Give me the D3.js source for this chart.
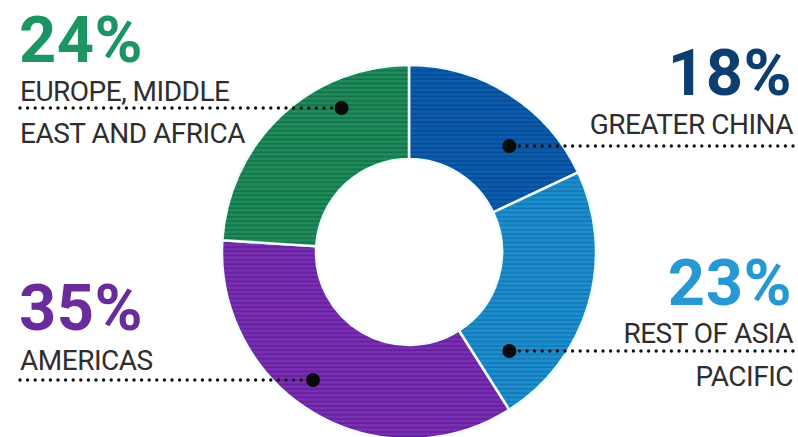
<!DOCTYPE html>
<html>
<head>
<meta charset="utf-8">
<script src="https://cdn.jsdelivr.net/npm/d3@7"></script>
<style>
  html, body { margin: 0; padding: 0; background: #fff; }
  #chart { width: 798px; height: 437px; overflow: hidden; }
  text { font-family: Roboto, "Noto Sans", sans-serif; }
</style>
</head>
<body>
<div id="chart"></div>
<script>
// Regional share, clockwise from 12 o'clock
const REGIONS = ['GREATER CHINA', 'REST OF ASIA PACIFIC', 'AMERICAS', 'EUROPE, MIDDLE EAST AND AFRICA'];
const SHARES = [18, 23, 35, 24];
const LABEL_LINES = [
  ['GREATER CHINA'],
  ['REST OF ASIA', 'PACIFIC'],
  ['AMERICAS'],
  ['EUROPE, MIDDLE', 'EAST AND AFRICA']
];

const WIDTH = 798, HEIGHT = 437;
const CENTER = { x: 409, y: 252 };
const R_OUT = 187, R_IN = 93;

const FILL = ['#0b5cad', '#1d8ecd', '#7a2eb2', '#1e8b5b'];
const STRIPE = ['#084a92', '#1476b0', '#60209a', '#157047'];
const PCT_COLOUR = ['#0e3d6f', '#2698d3', '#6a2c9d', '#1c9562'];

// label placement: side, percent baseline, text baselines, leader y, dot ring radius
const LAYOUT = [
  { side: 'right', pctY: 95, textY: [134], leaderY: 146, dotR: 146 },
  { side: 'right', pctY: 305, textY: [343, 386], leaderY: 351, dotR: 141 },
  { side: 'left', pctY: 330, textY: [370], leaderY: 380, dotR: 160 },
  { side: 'left', pctY: 62, textY: [101, 143], leaderY: 108, dotR: 159 }
];
const LEFT_X = 20, RIGHT_X = 793;

const svg = d3.select('#chart').append('svg')
  .attr('width', WIDTH)
  .attr('height', HEIGHT);

// striped fills
const defs = svg.append('defs');
FILL.forEach((c, i) => {
  const p = defs.append('pattern')
    .attr('id', `stripe-${i}`)
    .attr('patternUnits', 'userSpaceOnUse')
    .attr('width', 8)
    .attr('height', 4.3);
  p.append('rect').attr('width', 8).attr('height', 4.3).attr('fill', c);
  p.append('rect').attr('y', 2.8).attr('width', 8).attr('height', 1.5).attr('fill', STRIPE[i]);
});

const pie = d3.pie().sort(null).value(d => d)(SHARES);
const arc = d3.arc().innerRadius(R_IN).outerRadius(R_OUT);

const g = svg.append('g').attr('transform', `translate(${CENTER.x},${CENTER.y})`);

g.selectAll('path.slice')
  .data(pie)
  .join('path')
  .attr('class', 'slice')
  .attr('d', arc)
  .attr('fill', (d, i) => `url(#stripe-${i})`)
  .attr('stroke', '#effcf9')
  .attr('stroke-width', 2.5)
  .attr('stroke-linejoin', 'round');

// labels with dotted leaders
REGIONS.forEach((name, i) => {
  const L = LAYOUT[i];
  const right = L.side === 'right';
  const x = right ? RIGHT_X : LEFT_X;
  const anchor = right ? 'end' : 'start';

  svg.append('text')
    .attr('x', x - 1)
    .attr('y', L.pctY)
    .attr('text-anchor', anchor)
    .style('font-size', '65px')
    .style('font-weight', '700')
    .style('letter-spacing', '0.5px')
    .style('fill', PCT_COLOUR[i])
    .text(`${SHARES[i]}%`);

  LABEL_LINES[i].forEach((line, j) => {
    svg.append('text')
      .attr('x', x)
      .attr('y', L.textY[j])
      .attr('text-anchor', anchor)
      .style('font-size', '28px')
      .style('letter-spacing', '-0.5px')
      .style('fill', '#2e2e2e')
      .text(line);
  });

  // dot sits on a ring at the leader's height
  const dy = L.leaderY - CENTER.y;
  const dx = Math.sqrt(L.dotR * L.dotR - dy * dy) * (right ? 1 : -1);
  const dotX = CENTER.x + dx;

  svg.append('line')
    .attr('x1', right ? RIGHT_X : LEFT_X)
    .attr('x2', dotX)
    .attr('y1', L.leaderY)
    .attr('y2', L.leaderY)
    .attr('stroke', '#111')
    .attr('stroke-width', 3.4)
    .attr('stroke-linecap', 'round')
    .attr('stroke-dasharray', '0 7.6');

  svg.append('circle')
    .attr('cx', dotX)
    .attr('cy', L.leaderY)
    .attr('r', 7)
    .attr('fill', '#0a0a0a');
});
</script>
</body>
</html>
